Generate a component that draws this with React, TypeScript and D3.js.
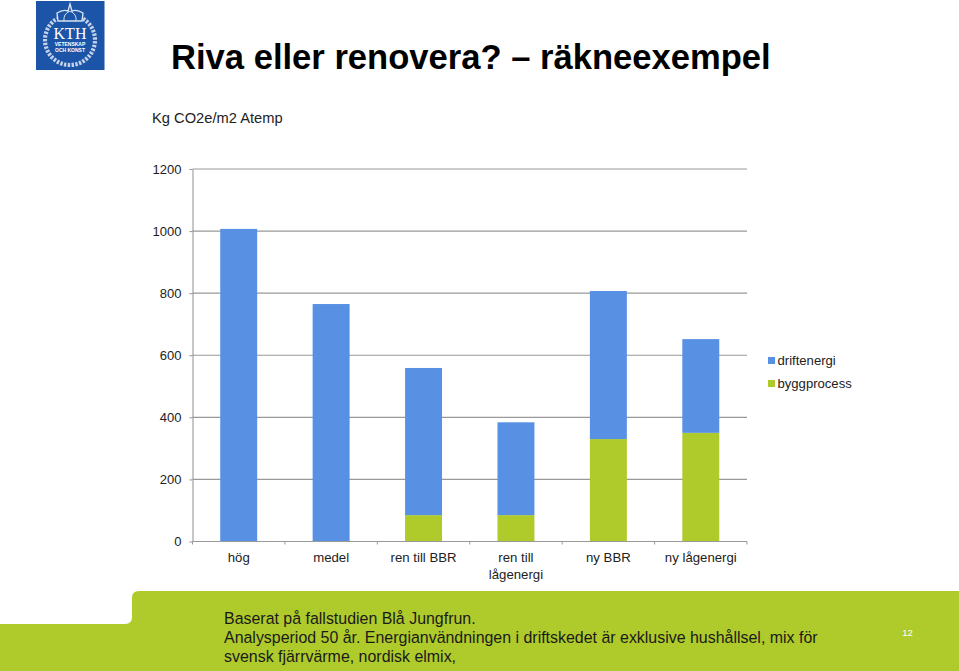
import React, { useRef, useEffect } from 'react';
import * as d3 from 'd3';

const categories = ['hög', 'medel', 'ren till BBR', 'ren till lågenergi', 'ny BBR', 'ny lågenergi'];
const byggprocess = [0, 0, 85, 85, 330, 350];
const driftenergi = [1007, 765, 474, 299, 477, 302];
const yTicks = [0, 200, 400, 600, 800, 1000, 1200];
const seriesNames = ['byggprocess', 'driftenergi'];
const colors = { driftenergi: '#5891e4', byggprocess: '#afca2b' };
const footerLines = [
  'Baserat på fallstudien Blå Jungfrun.',
  'Analysperiod 50 år. Energianvändningen i driftskedet är exklusive hushållsel, mix för',
  'svensk fjärrvärme, nordisk elmix,',
];
const FONT = '"Liberation Sans", Arial, sans-serif';
const AXIS = '#999999';

function App() {
  const ref = useRef<SVGSVGElement>(null);

  useEffect(() => {
    const svg = d3.select(ref.current);
    svg.selectAll('*').remove();

    const x = d3.scaleBand().domain(categories).range([192.5, 747]).paddingInner(0.6).paddingOuter(0.3);
    const y = d3.scaleLinear().domain([0, 1200]).range([541.5, 169]);

    // footer band
    svg.append('path')
      .attr('d', 'M0,671 V624 H125 Q132,624 132,617 V598 Q132,591 139,591 H959 V671 Z')
      .attr('fill', colors.byggprocess);

    // logo
    const logo = svg.append('g');
    logo.append('rect').attr('x', 36).attr('y', 1).attr('width', 68.5).attr('height', 69).attr('fill', '#1c54a8');
    const wreath = d3.lineRadial<number>().angle(a => a).radius(25).curve(d3.curveCatmullRom)(d3.range(0.55, Math.PI * 2 - 0.5, 0.1));
    logo.append('path').attr('d', wreath).attr('transform', 'translate(70,40)')
      .attr('fill', 'none').attr('stroke', '#c3d2ea').attr('stroke-width', 4.2).attr('stroke-dasharray', '2.4 1.4');
    logo.append('path').attr('d', 'M58,21 L57,13 Q63,9 68,11 L70,4 L72,11 Q77,9 83,13 L82,21 Z')
      .attr('fill', '#1c54a8').attr('stroke', '#d5e0f0').attr('stroke-width', 1.4);
    logo.append('path').attr('d', 'M64,21 Q63,14 70,11 Q77,14 76,21').attr('fill', 'none').attr('stroke', '#d5e0f0');
    logo.append('text').attr('x', 70).attr('y', 39).attr('text-anchor', 'middle')
      .attr('font-family', '"Liberation Serif", serif').attr('font-size', 16).attr('fill', '#fff').text('KTH');
    logo.append('text').attr('x', 70).attr('y', 46).attr('text-anchor', 'middle')
      .attr('font-family', FONT).attr('font-weight', 700).attr('font-size', 5).attr('fill', '#fff').text('VETENSKAP');
    logo.append('text').attr('x', 70).attr('y', 51.5).attr('text-anchor', 'middle')
      .attr('font-family', FONT).attr('font-weight', 700).attr('font-size', 5).attr('fill', '#fff').text('OCH KONST');

    // title
    svg.append('text').attr('x', 171).attr('y', 69)
      .attr('font-family', FONT).attr('font-weight', 700).attr('font-size', 34.6).attr('fill', '#000')
      .text('Riva eller renovera? – räkneexempel');

    svg.append('text').attr('x', 152).attr('y', 123)
      .attr('font-family', FONT).attr('font-size', 14.7).attr('fill', '#222').text('Kg CO2e/m2 Atemp');

    // gridlines
    svg.append('g').selectAll('line').data(yTicks.slice(1)).join('line')
      .attr('x1', 192.5).attr('x2', 747)
      .attr('y1', d => y(d)).attr('y2', d => y(d))
      .attr('stroke', AXIS).attr('stroke-width', 1.1);

    // stacked bars
    const rows = categories.map((c, i) => ({ category: c, byggprocess: byggprocess[i], driftenergi: driftenergi[i] }));
    const stacked = d3.stack<any>().keys(seriesNames)(rows);
    svg.append('g').selectAll('g').data(stacked).join('g')
      .attr('fill', d => colors[d.key as keyof typeof colors])
      .selectAll('rect').data(d => d).join('rect')
      .attr('x', d => x(d.data.category)!)
      .attr('width', x.bandwidth())
      .attr('y', d => y(d[1]))
      .attr('height', d => y(d[0]) - y(d[1]));

    // y axis
    const yAxis = svg.append('g').attr('transform', 'translate(192.5,0)')
      .call(d3.axisLeft(y).tickValues(yTicks).tickSize(3).tickSizeOuter(0).tickPadding(8).tickFormat(d3.format('d') as any));
    yAxis.selectAll('line,path').attr('stroke', AXIS).attr('stroke-width', 1.1);
    yAxis.selectAll('text').attr('font-family', FONT).attr('font-size', 13).attr('fill', '#222');

    // x axis
    const bandStep = x.step();
    const xLine = svg.append('g');
    xLine.append('line').attr('x1', 192.5).attr('x2', 747).attr('y1', y(0)).attr('y2', y(0)).attr('stroke', AXIS).attr('stroke-width', 1.1);
    xLine.selectAll('line.tick').data(d3.range(categories.length + 1)).join('line')
      .attr('class', 'tick')
      .attr('x1', i => 192.5 + i * bandStep).attr('x2', i => 192.5 + i * bandStep)
      .attr('y1', y(0)).attr('y2', y(0) + 3).attr('stroke', AXIS);

    const xLabels = [['hög'], ['medel'], ['ren till BBR'], ['ren till', 'lågenergi'], ['ny BBR'], ['ny lågenergi']];
    svg.append('g').selectAll('text').data(categories).join('text')
      .attr('text-anchor', 'middle')
      .attr('font-family', FONT).attr('font-size', 13.2).attr('fill', '#222')
      .attr('transform', d => `translate(${x(d)! + x.bandwidth() / 2},562)`)
      .each(function (_, i) {
        d3.select(this).selectAll('tspan').data(xLabels[i]).join('tspan')
          .attr('x', 0).attr('dy', (_, j) => (j === 0 ? 0 : 16.5)).text(t => t);
      });

    // legend
    const legendItems = ['driftenergi', 'byggprocess'];
    const legend = svg.append('g').selectAll('g').data(legendItems).join('g')
      .attr('transform', (_, i) => `translate(768,${357 + i * 23})`);
    legend.append('rect').attr('width', 7).attr('height', 7)
      .attr('fill', d => colors[d as keyof typeof colors]);
    legend.append('text').attr('x', 9.5).attr('y', 8)
      .attr('font-family', FONT).attr('font-size', 13.1).attr('fill', '#222').text(d => d);

    // footer text
    svg.append('g').selectAll('text').data(footerLines).join('text')
      .attr('x', 224).attr('y', (_, i) => 624 + i * 18.8)
      .attr('font-family', FONT).attr('font-size', 15.95).attr('fill', '#1a1a1a').text(d => d);

    svg.append('text').attr('x', 907.5).attr('y', 636).attr('text-anchor', 'middle')
      .attr('font-family', FONT).attr('font-size', 9.5).attr('fill', '#fff').text('12');
  }, []);

  return <svg ref={ref} width={959} height={671} style={{ position: 'fixed', left: 0, top: 0, background: '#fff' }} />;
}

export default App;
